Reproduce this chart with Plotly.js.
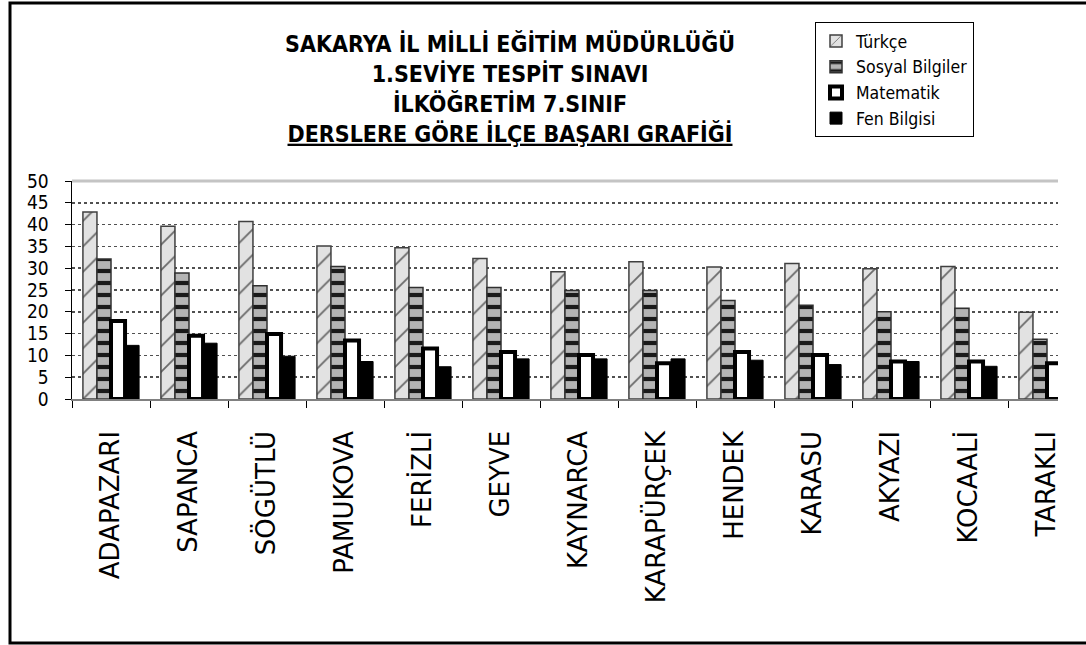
<!DOCTYPE html>
<html>
<head>
<meta charset="utf-8">
<script src="https://cdn.plot.ly/plotly-3.0.1.min.js"></script>
<style>html,body{margin:0;padding:0;background:#fff;}#chart{width:1086px;height:645px;}</style>
</head>
<body>
<div id="chart"></div>
<script>
const categories = ['ADAPAZARI','SAPANCA','SÖGÜTLÜ','PAMUKOVA','FERİZLİ','GEYVE','KAYNARCA','KARAPÜRÇEK','HENDEK','KARASU','AKYAZI','KOCAALİ','TARAKLI'];
const turkce   = [42.9, 39.6, 40.7, 35.1, 34.7, 32.2, 29.2, 31.5, 30.3, 31.1, 29.9, 30.4, 19.9];
const sosyal   = [32.1, 28.9, 26.0, 30.4, 25.6, 25.6, 24.9, 24.9, 22.6, 21.5, 20.0, 20.8, 13.7];
const matematik= [17.9, 14.5, 14.9, 13.4, 11.6, 10.8, 10.1, 8.2, 10.8, 10.1, 8.6, 8.6, 8.2];
const fen      = [12.3, 12.8, 9.8, 8.6, 7.4, 9.2, 9.2, 9.2, 8.9, 7.9, 8.6, 7.5, 7.5];
const seriesNames = ['Türkçe','Sosyal Bilgiler','Matematik','Fen Bilgisi'];
const yTicks = [0,5,10,15,20,25,30,35,40,45,50];

const narrow = '"Liberation Sans Narrow", "DejaVu Sans Condensed", "Liberation Sans", Arial, sans-serif';

const traces = [
  {type:'bar', name:seriesNames[0], x:categories, y:turkce,
   marker:{color:'#d8d8d8', line:{color:'#404040', width:1.5},
     pattern:{shape:'/', bgcolor:'#e2e2e2', fgcolor:'#6a6a6a', size:18, solidity:0.1}}},
  {type:'bar', name:seriesNames[1], x:categories, y:sosyal,
   marker:{color:'#a0a0a0', line:{color:'#303030', width:1.5},
     pattern:{shape:'-', bgcolor:'#b4b4b4', fgcolor:'#1a1a1a', size:12, solidity:0.35}}},
  {type:'bar', name:seriesNames[2], x:categories, y:matematik,
   marker:{color:'#ffffff', line:{color:'#000000', width:4}}},
  {type:'bar', name:seriesNames[3], x:categories, y:fen,
   marker:{color:'#000000', line:{color:'#000000', width:1}}}
];

const L = 72, R = 28, T = 181, B = 246;
const W = 1086 - L - R, H = 645 - T - B;
const px = v => (v - L) / W;
const py = v => (645 - B - v) / H;

const layout = {
  width:1086, height:645,
  margin:{l:L, r:R, t:T, b:B, pad:0},
  paper_bgcolor:'#ffffff', plot_bgcolor:'#ffffff',
  barmode:'group', bargap:0.28, bargroupgap:0,
  showlegend:true,
  title:{
    text:'SAKARYA İL MİLLİ EĞİTİM MÜDÜRLÜĞÜ<br>1.SEVİYE TESPİT SINAVI<br>İLKÖĞRETİM 7.SINIF<br><u>DERSLERE GÖRE İLÇE BAŞARI GRAFİĞİ</u>',
    font:{family:narrow, size:23, color:'#000', weight:'bold'},
    x:510/1086, xanchor:'center', xref:'container',
    y:1-52/645, yanchor:'top', yref:'container'
  },
  legend:{
    x:px(815), y:py(22), xanchor:'left', yanchor:'top',
    bgcolor:'#ffffff', bordercolor:'#000000', borderwidth:1,
    font:{family:narrow, size:17.5, color:'#000'},
    traceorder:'normal', tracegroupgap:0
  },
  xaxis:{
    type:'category', range:[-0.5, -0.5 + W/78],
    showline:true, linecolor:'#808080', linewidth:1.5,
    ticks:'outside', tickson:'boundaries', ticklen:7, tickcolor:'#000', tickwidth:1,
    tickangle:-90, ticklabelstandoff:20,
    tickfont:{family:'"DejaVu Sans", Verdana, sans-serif', size:26, color:'#000'},
    showgrid:false, zeroline:false, automargin:false, fixedrange:true
  },
  yaxis:{
    range:[0,50], tickmode:'array', tickvals:yTicks, ticktext:yTicks.map(String),
    showline:true, linecolor:'#000', linewidth:1.5,
    ticks:'outside', ticklen:6, tickcolor:'#000', tickwidth:1,
    ticklabelstandoff:12,
    tickfont:{family:narrow, size:19, color:'#000'},
    showgrid:true, gridcolor:'#505050', gridwidth:1.5, griddash:'dot',
    zeroline:false, automargin:false, fixedrange:true
  },
  shapes:[
    {type:'line', xref:'paper', yref:'paper', x0:0, x1:1, y0:1, y1:1, line:{color:'#c4c4c4', width:3}},
    {type:'rect', xref:'paper', yref:'paper', x0:px(10), x1:px(1092), y0:py(643), y1:py(3), line:{color:'#000', width:3}, fillcolor:'rgba(0,0,0,0)'}
  ]
};

Plotly.newPlot('chart', traces, layout, {displayModeBar:false, staticPlot:true});
</script>
</body>
</html>
